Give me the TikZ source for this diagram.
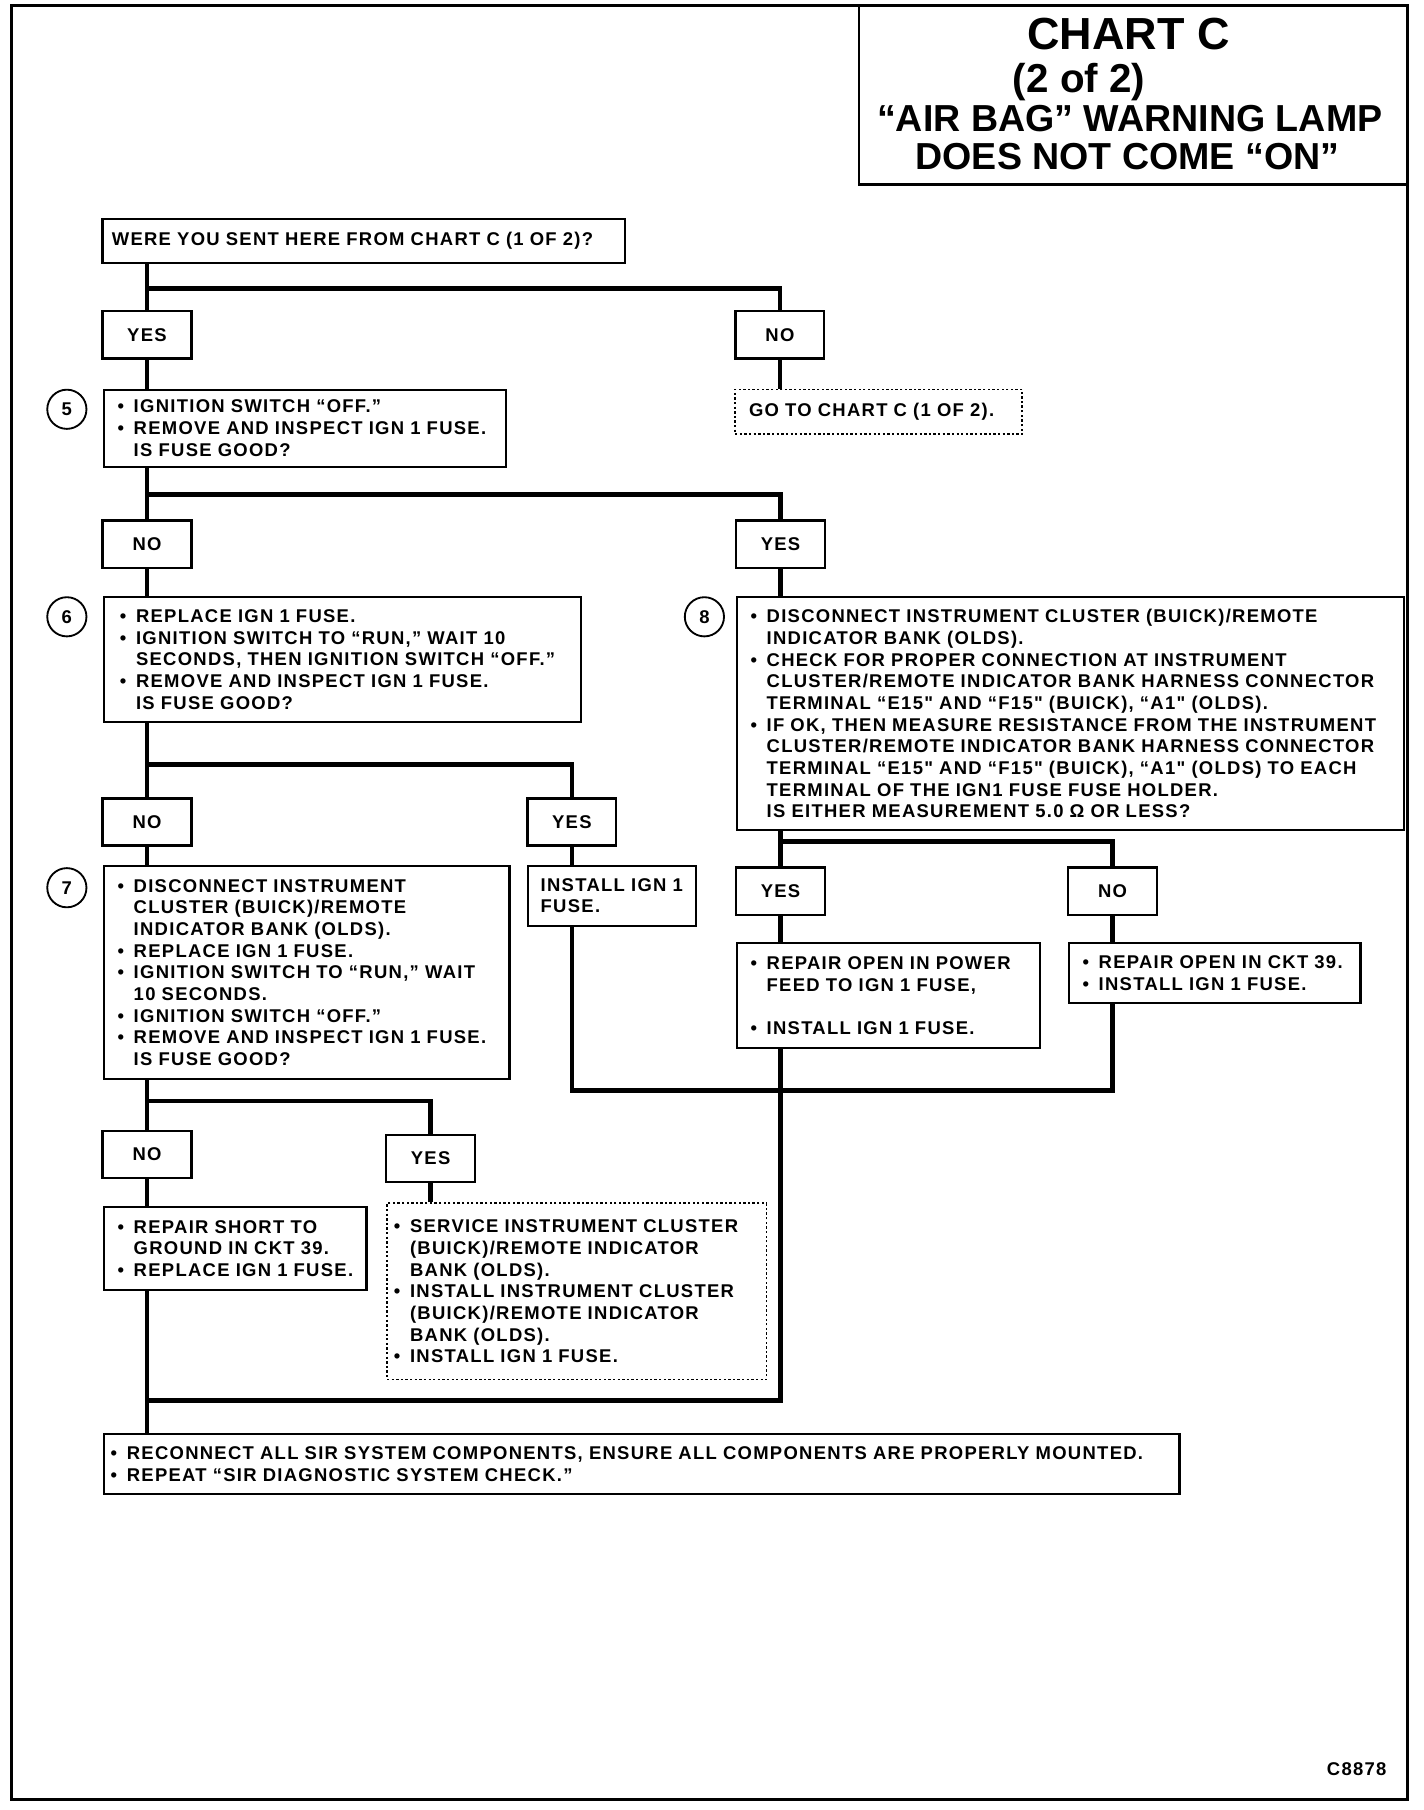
\documentclass[tikz,border=0pt]{standalone}
\usepackage{fontspec}
\setmainfont{Liberation Sans}
\newfontfamily\chartfont{Liberation Sans}[LetterSpace=7]
\usetikzlibrary{positioning,calc}
\newcommand{\itm}{\makebox[7pt][l]{•}}
\newcommand{\cnt}{\hspace*{7pt}}

\begin{document}
\begin{tikzpicture}[x=0.5pt, y=-0.5pt,
  txt/.style={font=\chartfont\bfseries\fontsize{8}{9.4}\selectfont},
  box/.style={txt, draw, line width=1pt, anchor=north west, align=left, inner xsep=6pt, inner ysep=0pt},
  dotbox/.style={box, densely dotted, line width=0.7pt},
  ans/.style={txt, draw, line width=1pt, minimum width=38.5pt, minimum height=20.5pt, inner sep=0pt},
  stepnum/.style={txt, draw, circle, line width=0.8pt, minimum size=17pt, inner sep=0pt},
  title/.style={font=\bfseries\fontsize{16.3}{18}\selectfont, anchor=base, inner sep=0pt},
  wire/.style={line width=2pt}]

  \useasboundingbox (0,0) rectangle (1235,1570);

  % Frame and title block
  \draw[line width=1.2pt] (10,5) rectangle (1221,1561);
  \draw[line width=0.9pt] (745,5) |- (1221,160);
  \node[title, font=\bfseries\fontsize{19.5}{22}\selectfont] (t1) at (979,43) {CHART C};
  \node[title, font=\bfseries\fontsize{17.5}{20}\selectfont] (t2) at (936,80) {(2 of 2)};
  \node[title] (t3) at (980,114) {“AIR BAG” WARNING LAMP};
  \node[title] (t4) at (978,147) {DOES NOT COME “ON”};
  \node[txt, anchor=base east, inner sep=0pt] (ref) at (1203,1540) {C8878};

  % Junctions of the branch lines
  \coordinate (j1) at (127.5,250);
  \coordinate (j2) at (127.5,429);
  \coordinate (j3) at (127.5,663);
  \coordinate (j4) at (677,730);
  \coordinate (j5) at (127.5,955);
  \coordinate (j6) at (965,946);
  \coordinate (j7) at (127.5,1215);

  % Question boxes
  \node[box, inner xsep=4pt, text width=218.5pt, minimum height=19pt] (start) at (88,189)
    {WERE YOU SENT HERE FROM CHART C (1 OF 2)?};
  \node[box, text width=162.5pt, minimum height=33.5pt] (chk5) at (89,337)
    {\itm IGNITION SWITCH “OFF.”\\
     \itm REMOVE AND INSPECT IGN 1 FUSE.\\
     \cnt IS FUSE GOOD?};
  \node[dotbox, text width=112.5pt, minimum height=19.5pt] (goto) at (637,337)
    {GO TO CHART C (1 OF 2).};
  \node[box, inner xsep=7pt, text width=193pt, minimum height=54pt] (chk6) at (89,517)
    {\itm REPLACE IGN 1 FUSE.\\
     \itm IGNITION SWITCH TO “RUN,” WAIT 10\\
     \cnt SECONDS, THEN IGNITION SWITCH “OFF.”\\
     \itm REMOVE AND INSPECT IGN 1 FUSE.\\
     \cnt IS FUSE GOOD?};
  \node[box, text width=277.5pt, minimum height=101pt] (chk8) at (638,517)
    {\itm DISCONNECT INSTRUMENT CLUSTER (BUICK)/REMOTE\\
     \cnt INDICATOR BANK (OLDS).\\
     \itm CHECK FOR PROPER CONNECTION AT INSTRUMENT\\
     \cnt CLUSTER/REMOTE INDICATOR BANK HARNESS CONNECTOR\\
     \cnt TERMINAL “E15" AND “F15" (BUICK), “A1" (OLDS).\\
     \itm IF OK, THEN MEASURE RESISTANCE FROM THE INSTRUMENT\\
     \cnt CLUSTER/REMOTE INDICATOR BANK HARNESS CONNECTOR\\
     \cnt TERMINAL “E15" AND “F15" (BUICK), “A1" (OLDS) TO EACH\\
     \cnt TERMINAL OF THE IGN1 FUSE FUSE HOLDER.\\
     \cnt IS EITHER MEASUREMENT 5.0 Ω OR LESS?};
  \node[box, text width=164pt, minimum height=92.5pt] (chk7) at (89,750)
    {\itm DISCONNECT INSTRUMENT\\
     \cnt CLUSTER (BUICK)/REMOTE\\
     \cnt INDICATOR BANK (OLDS).\\
     \itm REPLACE IGN 1 FUSE.\\
     \itm IGNITION SWITCH TO “RUN,” WAIT\\
     \cnt 10 SECONDS.\\
     \itm IGNITION SWITCH “OFF.”\\
     \itm REMOVE AND INSPECT IGN 1 FUSE.\\
     \cnt IS FUSE GOOD?};

  % Repair boxes
  \node[box, inner xsep=5.5pt, text width=62pt, minimum height=26pt] (inst) at (457,750)
    {\mbox{INSTALL IGN 1}\\ FUSE.};
  \node[box, text width=119.5pt, minimum height=45.5pt] (pwr) at (638,817)
    {\itm REPAIR OPEN IN POWER\\
     \cnt FEED TO IGN 1 FUSE,\\[9.4pt]
     \itm INSTALL IGN 1 FUSE.};
  \node[box, text width=114.5pt, minimum height=26pt] (ckt) at (926,817)
    {\itm REPAIR OPEN IN CKT 39.\\
     \itm INSTALL IGN 1 FUSE.};
  \node[box, text width=102pt, minimum height=36pt] (short) at (89,1046)
    {\itm REPAIR SHORT TO\\
     \cnt GROUND IN CKT 39.\\
     \itm REPLACE IGN 1 FUSE.};
  \node[dotbox, inner xsep=3pt, text width=158.5pt, minimum height=76.5pt] (serv) at (335,1043)
    {\itm SERVICE INSTRUMENT CLUSTER\\
     \cnt (BUICK)/REMOTE INDICATOR\\
     \cnt BANK (OLDS).\\
     \itm INSTALL INSTRUMENT CLUSTER\\
     \cnt (BUICK)/REMOTE INDICATOR\\
     \cnt BANK (OLDS).\\
     \itm INSTALL IGN 1 FUSE.};
  \node[box, inner xsep=3pt, text width=460.5pt, minimum height=26pt] (final) at (89,1243)
    {\itm RECONNECT ALL SIR SYSTEM COMPONENTS, ENSURE ALL COMPONENTS ARE PROPERLY MOUNTED.\\
     \itm REPEAT “SIR DIAGNOSTIC SYSTEM CHECK.”};

  % Answer boxes
  \node[ans] (yes1) at (127.5,290.5) {YES};
  \node[ans] (no1) at (676.5,290.5) {NO};
  \node[ans] (no2) at (127.5,472) {NO};
  \node[ans] (yes2) at (677,472) {YES};
  \node[ans] (no3) at (127.5,713) {NO};
  \node[ans] (yes3) at (496,713) {YES};
  \node[ans] (yes4) at (677,773) {YES};
  \node[ans] (no4) at (965,773) {NO};
  \node[ans] (no5) at (127.5,1001.5) {NO};
  \node[ans] (yes5) at (373.5,1005) {YES};

  % Step numbers
  \node[stepnum] (n5) at (58,355) {5};
  \node[stepnum] (n6) at (58,535) {6};
  \node[stepnum] (n7) at (58,770) {7};
  \node[stepnum] (n8) at (611,535) {8};

  % Lines for the first question
  \draw[wire] (start.south -| yes1) -- (yes1.north);
  \draw[wire] (j1) -| (no1.north);
  \draw[wire] (yes1.south) -- (yes1.south |- chk5.north);
  \draw[wire] (no1.south) -- (no1.south |- goto.north);

  % Lines for step 5
  \draw[wire] (chk5.south -| no2) -- (no2.north);
  \draw[wire] (j2) -| (yes2.north);
  \draw[wire] (no2.south) -- (no2.south |- chk6.north);
  \draw[wire] (yes2.south) -- (yes2.south |- chk8.north);

  % Lines for step 6
  \draw[wire] (chk6.south -| no3) -- (no3.north);
  \draw[wire] (j3) -| (yes3.north);
  \draw[wire] (no3.south) -- (no3.south |- chk7.north);
  \draw[wire] (yes3.south) -- (yes3.south |- inst.north);

  % Lines for step 8
  \draw[wire] (chk8.south -| yes4) -- (yes4.north);
  \draw[wire] (j4) -| (no4.north);
  \draw[wire] (yes4.south) -- (yes4.south |- pwr.north);
  \draw[wire] (no4.south) -- (no4.south |- ckt.north);

  % Lines for step 7
  \draw[wire] (chk7.south -| no5) -- (no5.north);
  \draw[wire] (j5) -| (yes5.north);
  \draw[wire] (no5.south) -- (no5.south |- short.north);
  \draw[wire] (yes5.south) -- (yes5.south |- serv.north);

  % Joining lines
  \draw[wire] (inst.south -| yes3) |- (j6) -- (j6 |- ckt.south);
  \draw[wire] (pwr.south -| yes4) |- (j7);
  \draw[wire] (short.south -| no5) -- (no5 |- final.north);

\end{tikzpicture}
\end{document}
